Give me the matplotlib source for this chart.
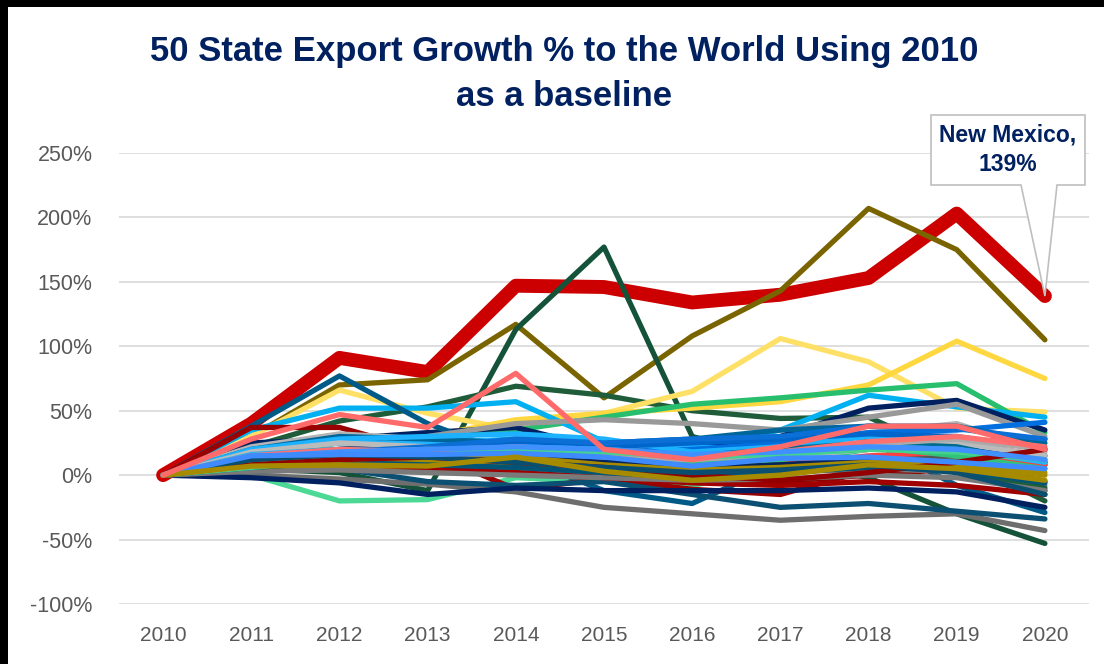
import matplotlib
matplotlib.use("Agg")
import matplotlib.pyplot as plt
from matplotlib.patches import Polygon, Rectangle
import numpy as np

years = [2010, 2011, 2012, 2013, 2014, 2015, 2016, 2017, 2018, 2019, 2020]

# growth % vs 2010, per state (approximate)
new_mexico   = [0, 40, 91, 80, 147, 146, 134, 140, 153, 203, 139]
s_olive      = [0, 30, 70, 74, 117, 60, 108, 143, 207, 175, 105]
s_spike      = [0, 5, 2, -12, 113, 177, 30, 12, -2, -30, -53]
s_dkgreen    = [0, 22, 42, 53, 69, 62, 50, 44, 45, 14, -20]
s_yellow1    = [0, 30, 66, 48, 35, 48, 65, 106, 88, 52, 49]
s_yellow2    = [0, 22, 30, 30, 43, 48, 52, 57, 70, 104, 75]
s_green      = [0, 15, 25, 30, 35, 45, 55, 60, 66, 71, 33]
s_mint       = [0, 0, -20, -19, -2, -5, -8, 5, 10, 12, 8]
s_cyan       = [0, 35, 52, 52, 57, 26, 22, 35, 62, 53, 45]
s_navy       = [0, 25, 28, 33, 37, 20, 20, 30, 52, 58, 35]
s_teal       = [0, 38, 77, 40, 15, -12, -22, 9, 27, -8, -29]
s_salmon     = [0, 28, 47, 37, 79, 20, 12, 22, 38, 38, 20]
s_dkred      = [0, 37, 37, 18, -11, -3, -11, -15, 4, 26, 28]
s_gray_low   = [0, 0, -3, -7, -13, -25, -30, -35, -32, -30, -43]
s_dkteal_low = [0, 3, 5, -5, -8, -5, -15, -25, -22, -28, -34]
s_ltgray     = [0, 22, 32, 28, 25, 22, 18, 25, 33, 40, 18]
s_midgray    = [0, 12, 20, 30, 40, 43, 40, 35, 45, 55, 30]
s_sky        = [0, 18, 25, 25, 28, 25, 22, 20, 25, 22, 15]
s_medblue    = [0, 15, 16, 16, 17, 14, 7, 13, 14, 10, 5]
s_blue       = [0, 10, 12, 10, 13, 18, 20, 25, 33, 35, 41]
s_brightred  = [0, 12, 15, 13, 15, 10, 5, 15, 20, 25, 15]
s_gold       = [0, 7, 8, 7, 14, 3, -4, 0, 8, 5, -4]
s_navy_low   = [0, -2, -6, -15, -10, -12, -12, -12, -10, -13, -25]
s_dkred2     = [0, 5, 8, 6, 3, 0, -5, -5, 0, 5, -12]
s_dkgray     = [0, 5, 10, 12, 8, 6, 5, 10, 12, 15, 10]
s_teal2      = [0, 20, 30, 28, 25, 25, 28, 35, 38, 38, 25]
s_green2     = [0, 12, 18, 20, 15, 10, 0, 10, 20, 22, 15]
s_sky2       = [0, 20, 28, 30, 32, 28, 18, 22, 30, 28, 12]
s_royal      = [0, 8, 15, 20, 25, 22, 25, 28, 32, 30, 20]
s_navy2      = [0, 15, 20, 22, 20, 12, 8, 15, 22, 25, 10]
s_gray2      = [0, 6, 8, 5, 4, 2, 0, 2, 5, 3, -8]
s_ltgray2    = [0, 18, 25, 22, 20, 15, 10, 14, 20, 25, 15]
s_tealc      = [0, 10, 14, 18, 20, 18, 15, 20, 25, 22, 8]
s_red2       = [0, 10, 12, 10, 8, 5, 2, 8, 15, 18, 8]
s_dkred3     = [0, 4, 6, 5, 2, -2, -6, -8, -5, -8, -15]
s_gold2      = [0, 5, 6, 8, 10, 5, 2, 5, 10, 8, 2]
s_green3     = [0, 8, 12, 14, 18, 15, 10, 18, 22, 15, 5]
s_blue2      = [0, 12, 18, 22, 28, 25, 28, 30, 38, 36, 28]
s_dkgreen2   = [0, 10, 15, 18, 12, 8, 5, 8, 10, 5, -10]
s_cyan2      = [0, 16, 20, 18, 22, 20, 15, 18, 22, 20, 10]
s_gray3      = [0, 3, 4, 2, 0, -2, -4, -3, 0, -2, -12]
s_navy3      = [0, 8, 10, 12, 15, 10, 5, 8, 12, 10, -5]
s_teal3      = [0, 6, 10, 8, 6, 2, -2, 2, 6, 4, -6]
s_ltgray3    = [0, 14, 18, 20, 18, 14, 12, 16, 24, 28, 20]
s_salmon2    = [0, 15, 20, 18, 22, 18, 14, 18, 26, 30, 22]
s_mint2      = [0, 6, 12, 15, 20, 18, 14, 16, 20, 18, 12]
s_gold3      = [0, 10, 14, 12, 14, 8, 4, 6, 10, 8, 0]
s_dkred4     = [0, 8, 12, 14, 10, 6, 0, -4, 2, 10, 20]
s_medblue2   = [0, 14, 18, 20, 22, 20, 16, 18, 22, 20, 12]
s_dkteal2    = [0, 12, 16, 14, 10, 6, 2, 4, 8, 2, -15]

series = [
    ("Olive", s_olive, "#7A6400"),
    ("Spike", s_spike, "#14533A"),
    ("DkGreen", s_dkgreen, "#1E5C3A"),
    ("Yellow1", s_yellow1, "#FFE066"),
    ("Yellow2", s_yellow2, "#FFD740"),
    ("Green", s_green, "#27BE6E"),
    ("Mint", s_mint, "#4CD995"),
    ("Cyan", s_cyan, "#00B0F0"),
    ("Navy", s_navy, "#002060"),
    ("Teal", s_teal, "#005A87"),
    ("DkRed", s_dkred, "#990000"),
    ("GrayLow", s_gray_low, "#6E6E6E"),
    ("DkTealLow", s_dkteal_low, "#0B4F72"),
    ("LtGray", s_ltgray, "#B4B4B4"),
    ("MidGray", s_midgray, "#999999"),
    ("Sky", s_sky, "#1EB4FF"),
    ("Blue", s_blue, "#0070E0"),
    ("BrightRed", s_brightred, "#FF3030"),
    ("NavyLow", s_navy_low, "#002060"),
    ("DkRed2", s_dkred2, "#8B0000"),
    ("DkGray", s_dkgray, "#555555"),
    ("Teal2", s_teal2, "#006699"),
    ("Green2", s_green2, "#2ECC71"),
    ("Sky2", s_sky2, "#1CB2FF"),
    ("Royal", s_royal, "#0066CC"),
    ("Navy2", s_navy2, "#0A2A66"),
    ("Gray2", s_gray2, "#808080"),
    ("LtGray2", s_ltgray2, "#BBBBBB"),
    ("TealC", s_tealc, "#006B8F"),
    ("Red2", s_red2, "#FF4040"),
    ("DkRed3", s_dkred3, "#A00000"),
    ("Gold2", s_gold2, "#B08D00"),
    ("Green3", s_green3, "#33C27A"),
    ("Blue2", s_blue2, "#0B6FD6"),
    ("DkGreen2", s_dkgreen2, "#1B5E3B"),
    ("Cyan2", s_cyan2, "#22B5F5"),
    ("Gray3", s_gray3, "#7A7A7A"),
    ("Navy3", s_navy3, "#06245C"),
    ("Teal3", s_teal3, "#005577"),
    ("LtGray3", s_ltgray3, "#AAAAAA"),
    ("Salmon2", s_salmon2, "#FF7070"),
    ("Mint2", s_mint2, "#45D28E"),
    ("Gold3", s_gold3, "#A68A00"),
    ("DkRed4", s_dkred4, "#930000"),
    ("MedBlue2", s_medblue2, "#4090FF"),
    ("DkTeal2", s_dkteal2, "#0A4E70"),
    ("MedBlue", s_medblue, "#3D8BFF"),
    ("Gold", s_gold, "#A68A00"),
    ("Salmon", s_salmon, "#FF6B6B"),
]

W, H = 1104, 664
fig = plt.figure(figsize=(W / 100, H / 100), dpi=100)
fig.patch.set_facecolor("white")

# black frame strips at top/left
fig.patches.append(Rectangle((0, 1 - 7 / H), 1, 7 / H, transform=fig.transFigure,
                             facecolor="black", edgecolor="none", zorder=0))
fig.patches.append(Rectangle((0, 0), 8 / W, 1, transform=fig.transFigure,
                             facecolor="black", edgecolor="none", zorder=0))

left, right = 119 / W, 1089 / W
bottom, top = 1 - 604 / H, 1 - 153 / H
ax = fig.add_axes([left, bottom, right - left, top - bottom])
ax.set_xlim(2009.5, 2020.5)
ax.set_ylim(-100, 250)

ax.plot(years, new_mexico, color="#CC0000", lw=10, solid_capstyle="round",
        solid_joinstyle="round", zorder=2)
for i, (name, vals, col) in enumerate(series):
    ax.plot(years, vals, color=col, lw=3.8, solid_capstyle="round",
            solid_joinstyle="round", zorder=3 + i * 0.01)

ax.set_yticks(np.arange(-100, 251, 50))
ax.set_yticklabels([f"{v}%" for v in range(-100, 251, 50)])
ax.set_xticks(years)
ax.set_xticklabels([str(y) for y in years])
ax.grid(axis="y", color="#D9D9D9", lw=1.2, zorder=0)
ax.grid(axis="x", visible=False)
for sp in ax.spines.values():
    sp.set_visible(False)
ax.tick_params(axis="y", length=0, pad=19, labelsize=15.5, labelcolor="#595959")
ax.tick_params(axis="x", length=0, pad=16, labelsize=15, labelcolor="#595959")
for lab in ax.get_yticklabels():
    lab.set_family(["Liberation Sans", "DejaVu Sans"])
for lab in ax.get_xticklabels():
    lab.set_family(["Liberation Sans", "DejaVu Sans"])

fig.text(0.511, 1 - 35 / H, "50 State Export Growth % to the World Using 2010\nas a baseline",
         ha="center", va="top", fontsize=25, fontweight="bold", color="#002060",
         family=["Liberation Sans", "DejaVu Sans"],
         linespacing=1.45)

# callout box for New Mexico
def px_to_axes(px, py):
    return ((px - 119) / 970.0, (604 - py) / 451.0)

tip = ax.transAxes.inverted().transform(ax.transData.transform((years[-1], new_mexico[-1])))
bl = px_to_axes(931, 185)
tr = px_to_axes(1085, 115)
w1 = px_to_axes(1021, 185)
w2 = px_to_axes(1057, 185)
poly = [(bl[0], bl[1]), (w1[0], bl[1]), (tip[0], tip[1]), (w2[0], bl[1]),
        (tr[0], bl[1]), (tr[0], tr[1]), (bl[0], tr[1])]
ax.add_patch(Polygon(poly, closed=True, transform=ax.transAxes, facecolor="white",
                     edgecolor="#BFBFBF", lw=1.2, clip_on=False, zorder=20))
ax.text((bl[0] + tr[0]) / 2, (bl[1] + tr[1]) / 2, "New Mexico,\n139%", transform=ax.transAxes,
        ha="center", va="center", fontsize=16.5, fontweight="bold", color="#002060",
        family=["Liberation Sans", "DejaVu Sans"],
        linespacing=1.35, zorder=21)

fig.savefig("out.png", dpi=100, facecolor="white")
